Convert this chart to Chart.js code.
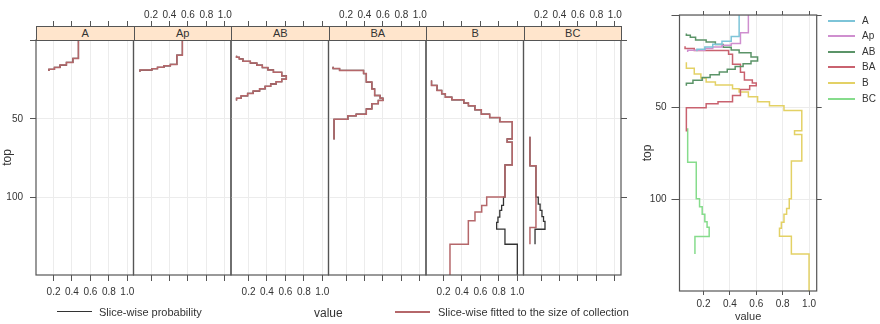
<!DOCTYPE html>
<html>
<head>
<meta charset="utf-8">
<script src="https://cdn.jsdelivr.net/npm/chart.js@4.4.1/dist/chart.umd.min.js"></script>
<style>
  html, body { margin: 0; padding: 0; background: #fff; }
  #page { position: relative; width: 880px; height: 324px; overflow: hidden;
          font-family: "Liberation Sans", Arial, sans-serif; color: #333; }
  #page canvas { position: absolute; }
  .strip { position: absolute; top: 26px; height: 15px; box-sizing: border-box;
           background: #ffe5cc; border: 1px solid #555; font-size: 11px;
           text-align: center; line-height: 13px; z-index: 2; }
  .txt { position: absolute; white-space: nowrap; line-height: 14px; }
  .key { position: absolute; }
</style>
</head>
<body>
<div id="page"></div>
<script>
// horizons (panels) and their colours in the overview panel
var horizons = ['A', 'Ap', 'AB', 'BA', 'B', 'BC'];
var horizonColors = ['#7dc4d8', '#cf8fcf', '#5b9468', '#c9626f', '#e3d165', '#86dc8c'];

// slice-wise probability: depth where each step starts (last = end) and value
var depthA = [0, 11.7, 14.2, 15.9, 17.4, 18.6, 19.6];
var probA  = [0.47, 0.41, 0.34, 0.27, 0.21, 0.15, 0.15];

var depthAp = [0, 9.6, 15.5, 16.4, 17.3, 18.2, 19.1, 20.1];
var probAp  = [0.54, 0.48, 0.41, 0.34, 0.27, 0.21, 0.08, 0.08];

var depthAB = [10, 11, 12, 13.5, 14.6, 16, 17.5, 19, 20.5, 22.8, 24.9, 26.4, 27.9, 29.4, 30.9, 32.4, 33.9, 35.4, 37, 38.4];
var probAB  = [0.07, 0.10, 0.14, 0.22, 0.29, 0.35, 0.41, 0.47, 0.56, 0.61, 0.56, 0.50, 0.44, 0.38, 0.32, 0.25, 0.19, 0.12, 0.07, 0.07];

var depthBA = [17, 18.1, 19.3, 21.3, 26.7, 31, 35.2, 36.9, 38.3, 40.4, 43.7, 47, 48.1, 50.3, 63.1];
var probBA  = [0.06, 0.13, 0.39, 0.42, 0.48, 0.51, 0.57, 0.60, 0.55, 0.48, 0.42, 0.31, 0.22, 0.07, 0.07];

var depthB = [25.6, 28.8, 32, 34.1, 36.3, 37.9, 40, 41.7, 44.3, 47, 49.2, 51.8, 62.7, 64.8, 79.2, 99.6, 104.9, 108, 112.3, 115.6, 119.9, 129.5, 150];
var probB  = [0.07, 0.13, 0.18, 0.22, 0.29, 0.42, 0.47, 0.54, 0.61, 0.70, 0.81, 0.945, 0.89, 0.945, 0.866, 0.85, 0.83, 0.81, 0.79, 0.776, 0.866, 1.0, 1.0];

var depthBC = [61.4, 79.8, 99.6, 104, 108, 112, 115, 120, 129.5];
var probBC  = [0.08, 0.145, 0.17, 0.19, 0.21, 0.227, 0.243, 0.135, 0.135];

// fitted to the size of collection (only differs for B and BC)
var fitDepthB = [25.6, 28.8, 32, 34.1, 36.3, 37.9, 40, 41.7, 44.3, 47, 49.2, 51.8, 62.7, 64.8, 79.2, 99.6, 104.9, 109.1, 114.6, 129.5, 150];
var fitB      = [0.07, 0.13, 0.18, 0.22, 0.29, 0.42, 0.47, 0.54, 0.61, 0.70, 0.81, 0.945, 0.89, 0.945, 0.866, 0.668, 0.614, 0.541, 0.469, 0.27, 0.27];

var fitDepthBC = [61.4, 79.8, 118.9, 129.5];
var fitBC      = [0.08, 0.145, 0.08, 0.08];

var xTicks = [0.2, 0.4, 0.6, 0.8, 1.0];
var yTicks = [0, 50, 100];

var probDepths = [depthA, depthAp, depthAB, depthBA, depthB, depthBC];
var probVals   = [probA, probAp, probAB, probBA, probB, probBC];
var fitDepths  = [depthA, depthAp, depthAB, depthBA, fitDepthB, fitDepthBC];
var fitVals    = [probA, probAp, probAB, probBA, fitB, fitBC];

var RED = '#b5676a', BLACK = '#333333', BOX = '#555555', GRID = '#ececec';

Chart.defaults.font.family = '"Liberation Sans", Arial, sans-serif';
Chart.defaults.font.size = 10;
Chart.defaults.color = '#333';

var page = document.getElementById('page');

function steps(depths, vals) {
    return depths.map(function (d, i) { return { x: vals[i], y: d }; });
}

function fixedTicks(values) {
    return function (scale) {
        scale.ticks = values.map(function (v) { return { value: v }; });
    };
}

function fixSize(prop, size) {
    return function (scale) { scale[prop] = size; };
}

function addCanvas(left, top, w, h) {
    var c = document.createElement('canvas');
    c.width = w; c.height = h;
    c.style.left = left + 'px'; c.style.top = top + 'px';
    c.style.width = w + 'px'; c.style.height = h + 'px';
    page.appendChild(c);
    return c;
}

function addText(text, left, cy, size) {
    var d = document.createElement('div');
    d.className = 'txt';
    d.style.left = left + 'px';
    d.style.top = (cy - 7) + 'px';
    d.style.fontSize = size + 'px';
    d.textContent = text;
    page.appendChild(d);
    return d;
}

function addKey(left, top, w, color, h) {
    var d = document.createElement('div');
    d.className = 'key';
    d.style.left = left + 'px';
    d.style.top = top + 'px';
    d.style.width = w + 'px';
    d.style.height = h + 'px';
    d.style.background = color;
    page.appendChild(d);
}

// box around each panel
var panelBox = {
    id: 'panelBox',
    afterDraw: function (chart) {
        var a = chart.chartArea, ctx = chart.ctx;
        ctx.save();
        ctx.strokeStyle = BOX;
        ctx.lineWidth = 1.2;
        ctx.strokeRect(a.left, a.top, a.right - a.left, a.bottom - a.top);
        ctx.restore();
    }
};

function stepLine(label, data, color, width, order) {
    return {
        label: label, data: data, showLine: true, stepped: 'after',
        borderColor: color, backgroundColor: color, borderWidth: width,
        pointRadius: 0, order: order
    };
}

// ---------- lattice of six panels ----------
var PW = 97.5;
horizons.forEach(function (h, p) {
    var pl = 36 + PW * p, pr = pl + PW;
    var first = p === 0, last = p === horizons.length - 1;
    var cx = first ? 0 : Math.floor(pl) - 20;
    var cw = first ? 154 : 140;
    var bottomLabels = p % 2 === 0;

    var scales = {
        x: {
            type: 'linear', position: 'bottom', min: 0.01, max: 1.067,
            afterBuildTicks: fixedTicks(xTicks), afterFit: fixSize('height', 25),
            grid: { color: GRID, tickColor: BOX, tickLength: 6 },
            border: { display: false },
            ticks: { padding: 5, maxRotation: 0, autoSkip: false,
                     callback: function (v) { return bottomLabels ? v.toFixed(1) : ''; } }
        },
        xTop: {
            type: 'linear', position: 'top', min: 0.01, max: 1.067,
            afterBuildTicks: fixedTicks(xTicks), afterFit: fixSize('height', 40),
            grid: { drawOnChartArea: false, tickColor: BOX, tickLength: 19 },
            border: { display: false },
            ticks: { padding: 0, maxRotation: 0, autoSkip: false,
                     callback: function (v) { return bottomLabels ? '' : v.toFixed(1); } }
        },
        y: {
            type: 'linear', position: 'left', reverse: true, min: 0, max: 149,
            afterBuildTicks: fixedTicks(yTicks), afterFit: fixSize('width', first ? 36 : 0),
            grid: { color: GRID, drawTicks: first, tickColor: BOX, tickLength: 6 },
            border: { display: false },
            ticks: { display: first, padding: 7,
                     callback: function (v) { return v === 0 ? '' : v; } },
            title: { display: first, text: 'top', font: { size: 12 }, padding: { top: 0, bottom: 0 } }
        }
    };
    if (last) {
        scales.yRight = {
            type: 'linear', position: 'right', reverse: true, min: 0, max: 149,
            afterBuildTicks: fixedTicks(yTicks), afterFit: fixSize('width', 7),
            grid: { drawOnChartArea: false, tickColor: BOX, tickLength: 6 },
            border: { display: false },
            ticks: { callback: function () { return ''; } }
        };
    }

    new Chart(addCanvas(cx, 0, cw, 300), {
        type: 'scatter',
        data: {
            datasets: [
                stepLine('Slice-wise fitted to the size of collection', steps(fitDepths[p], fitVals[p]), RED, 1.5, 0),
                stepLine('Slice-wise probability', steps(probDepths[p], probVals[p]), BLACK, 1.3, 1)
            ]
        },
        options: {
            responsive: false, animation: false, devicePixelRatio: 1, events: [],
            layout: { padding: { left: first ? 0 : pl - cx, right: cx + cw - pr - (last ? 7 : 0), top: 0, bottom: 0 } },
            plugins: { legend: { display: false }, tooltip: { enabled: false } },
            scales: scales
        },
        plugins: [panelBox]
    });

    var s = document.createElement('div');
    s.className = 'strip';
    s.style.left = pl + 'px';
    s.style.width = (PW + 1) + 'px';
    s.textContent = h;
    page.appendChild(s);
});

// shared axis title and key under the lattice
addText('value', 314, 312.5, 12);
addKey(57, 311, 35, BLACK, 1);
addText('Slice-wise probability', 99, 312, 11);
addKey(395, 311, 35, RED, 1.5);
addText('Slice-wise fitted to the size of collection', 438, 312, 11);

// ---------- overview panel: probability of all horizons ----------
new Chart(addCanvas(630, 0, 200, 324), {
    type: 'scatter',
    data: {
        datasets: horizons.map(function (h, i) {
            return stepLine(h, steps(probDepths[i], probVals[i]), horizonColors[i], 1.5, i);
        })
    },
    options: {
        responsive: false, animation: false, devicePixelRatio: 1, events: [],
        layout: { padding: { left: 0, right: 7.3, top: 0, bottom: 0 } },
        plugins: { legend: { display: false }, tooltip: { enabled: false } },
        scales: {
            x: {
                type: 'linear', position: 'bottom', min: 0.018, max: 1.058,
                afterBuildTicks: fixedTicks(xTicks), afterFit: fixSize('height', 33),
                grid: { color: GRID, tickColor: BOX, tickLength: 4 },
                border: { display: false },
                ticks: { padding: 3, maxRotation: 0, autoSkip: false,
                         callback: function (v) { return v.toFixed(1); } },
                title: { display: true, text: 'value', font: { size: 11 }, padding: { top: 0, bottom: 0 } }
            },
            xTop: {
                type: 'linear', position: 'top', min: 0.018, max: 1.058,
                afterBuildTicks: fixedTicks(xTicks), afterFit: fixSize('height', 15),
                grid: { drawOnChartArea: false, tickColor: BOX, tickLength: 4 },
                border: { display: false },
                ticks: { callback: function () { return ''; } }
            },
            y: {
                type: 'linear', position: 'left', reverse: true, min: 0, max: 149.6,
                afterBuildTicks: fixedTicks(yTicks), afterFit: fixSize('width', 49.5),
                grid: { color: GRID, tickColor: BOX, tickLength: 8 },
                border: { display: false },
                ticks: { padding: 5, callback: function (v) { return v === 0 ? '' : v; } },
                title: { display: true, text: 'top', font: { size: 12 }, padding: { top: 10, bottom: 0 } }
            },
            yRight: {
                type: 'linear', position: 'right', reverse: true, min: 0, max: 149.6,
                afterBuildTicks: fixedTicks(yTicks), afterFit: fixSize('width', 6),
                grid: { drawOnChartArea: false, tickColor: BOX, tickLength: 5 },
                border: { display: false },
                ticks: { callback: function () { return ''; } }
            }
        }
    },
    plugins: [panelBox]
});

// key of the overview panel
horizons.forEach(function (h, i) {
    var cy = Math.round(20.5 + 15.6 * i);
    addKey(828, cy - 1, 27, horizonColors[i], 2);
    addText(h, 862, cy, 10);
});
</script>
</body>
</html>
